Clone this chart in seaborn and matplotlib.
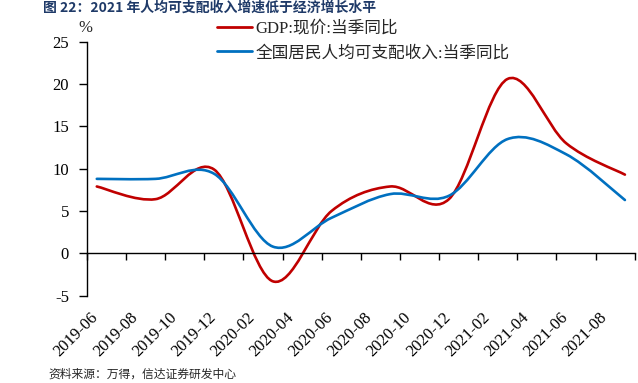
import numpy as np
import pandas as pd
import seaborn as sns
import matplotlib.pyplot as plt
from matplotlib.path import Path
from matplotlib.patches import PathPatch
from matplotlib.lines import Line2D

# monthly category axis, values only at quarter ends
months = pd.period_range('2019-06', '2021-09', freq='M').strftime('%Y-%m').tolist()
quarters = ['2019-06', '2019-09', '2019-12', '2020-03', '2020-06',
            '2020-09', '2020-12', '2021-03', '2021-06', '2021-09']
gdp = [7.9, 6.4, 9.9, -3.3, 5.0, 7.9, 6.4, 20.6, 13.0, 9.3]
income = [8.8, 8.8, 9.4, 0.8, 4.2, 7.0, 6.8, 13.5, 11.7, 6.3]
tick_labels = ['2019-06', '2019-08', '2019-10', '2019-12', '2020-02', '2020-04', '2020-06',
               '2020-08', '2020-10', '2020-12', '2021-02', '2021-04', '2021-06', '2021-08']
series_names = ['GDP:现价:当季同比', '全国居民人均可支配收入:当季同比']
colors = ['#C00000', '#0070C0']

sns.set_theme(style='ticks')
plt.rcParams['font.family'] = ['Liberation Serif', 'Noto Sans CJK SC']
plt.rcParams['axes.edgecolor'] = 'black'
plt.rcParams['xtick.color'] = 'black'
plt.rcParams['ytick.color'] = 'black'
plt.rcParams['axes.unicode_minus'] = False


def smooth_path(x, y):
    """Excel-like smoothed line: Catmull-Rom segments as cubic Beziers."""
    pts = np.column_stack([x, y]).astype(float)
    ext = np.vstack([pts[0], pts, pts[-1]])
    verts = [pts[0]]
    codes = [Path.MOVETO]
    for i in range(len(pts) - 1):
        p0, p1, p2, p3 = ext[i], ext[i + 1], ext[i + 2], ext[i + 3]
        verts += [p1 + (p2 - p0) / 6, p2 - (p3 - p1) / 6, p2]
        codes += [Path.CURVE4] * 3
    return Path(verts, codes)


xq = [months.index(q) for q in quarters]

fig = plt.figure(figsize=(6.38, 3.83), dpi=100)
ax = fig.add_axes([87 / 638, 1 - 295.7 / 383, (634.7 - 87) / 638, (295.7 - 41.7) / 383])

for vals, c in zip([gdp, income], colors):
    ax.add_patch(PathPatch(smooth_path(xq, vals), fill=False, edgecolor=c,
                           lw=1.9, capstyle='round', joinstyle='round'))

ax.set_xlim(-0.5, len(months) - 0.5)
ax.set_ylim(-5, 25)
ax.set_yticks(range(-5, 30, 5))
ax.set_yticklabels([str(v) for v in range(-5, 30, 5)], fontsize=12)
ax.set_xticks(np.arange(-0.5, len(months), 2))
ax.set_xticklabels([])
sns.despine(ax=ax)
ax.spines['bottom'].set_position(('data', 0))
ax.spines['bottom'].set_linewidth(1)
ax.spines['left'].set_linewidth(1)
ax.tick_params(axis='x', direction='out', length=5, width=1)
ax.tick_params(axis='y', direction='out', length=6, width=1, pad=7)

# date labels under the plot area
ax2 = ax.twiny()
ax2.set_xlim(ax.get_xlim())
ax2.xaxis.tick_bottom()
ax2.set_xticks(np.arange(0, len(months), 2) + 0.25)
ax2.set_xticklabels(tick_labels, rotation=45, ha='right', va='top', fontsize=12)
ax2.tick_params(axis='x', length=0, pad=10)
for s in ax2.spines.values():
    s.set_visible(False)

handles = [Line2D([], [], color=c, lw=2) for c in colors]
ax.legend(handles, series_names, loc='upper left', bbox_to_anchor=(217 / 638, 1 - 21 / 383),
          bbox_transform=fig.transFigure, frameon=False, handlelength=2.1, handletextpad=0.2,
          borderpad=0, borderaxespad=0, labelspacing=0.5, fontsize=12)

fig.text(85 / 638, 1 - 28 / 383, '%', ha='center', va='center', fontsize=12)
fig.text(43 / 638, 1 - 12 / 383, '图 22：2021 年人均可支配收入增速低于经济增长水平',
         fontsize=10, fontweight='bold', color='#1F3A68', va='baseline',
         family=['Noto Sans CJK SC', 'Liberation Serif'])
fig.text(48 / 638, 1 - 374 / 383, '资料来源：万得，信达证券研发中心', fontsize=8.5,
         style='italic', va='center', family=['Noto Sans CJK SC'])

fig.savefig('out.png', dpi=100)
